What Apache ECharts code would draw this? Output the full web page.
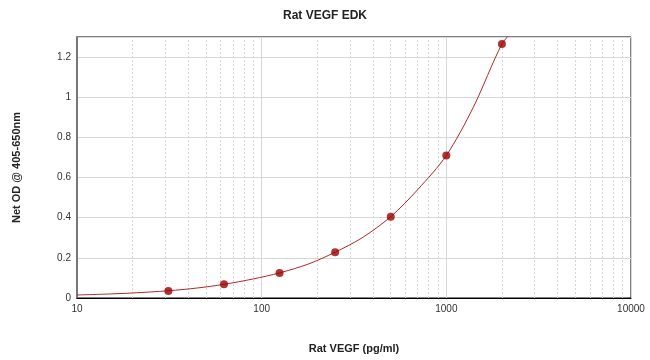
<!DOCTYPE html>
<html><head><meta charset="utf-8">
<script src="https://cdn.jsdelivr.net/npm/echarts@6/dist/echarts.min.js"></script>
<style>html,body{margin:0;padding:0;background:#fff}#c{width:650px;height:360px}</style>
</head><body><div id="c"></div>
<script>
const concentrations = [31.25, 62.5, 125, 250, 500, 1000, 2000];
const odValues = [0.035, 0.068, 0.125, 0.228, 0.405, 0.71, 1.265];
const curveX = [10, 15, 20, 31.25, 45, 62.5, 90, 125, 180, 250, 350, 500, 700, 1000, 1400, 2000, 2300];
const curveY = [0.015, 0.02, 0.025, 0.036, 0.05, 0.068, 0.095, 0.125, 0.17, 0.228, 0.3, 0.405, 0.54, 0.71, 0.95, 1.265, 1.33];
const minorGridX = [20,30,40,50,60,70,80,90,200,300,400,500,600,700,800,900,2000,3000,4000,5000,6000,7000,8000,9000];
const titleText = 'Rat VEGF EDK';
const xName = 'Rat VEGF (pg/ml)';
const yName = 'Net OD @ 405-650nm';

const font = 'Liberation Sans, Arial, sans-serif';
const chart = echarts.init(document.getElementById('c'));
chart.setOption({
  animation: false,
  title: { text: titleText, left: 'center', top: 5, textStyle: { fontFamily: font, fontSize: 12, fontWeight: 'bold', color: '#222' } },
  grid: { left: 77, right: 19, top: 37, bottom: 62, show: true, borderColor: '#000', borderWidth: 1, backgroundColor: 'transparent' },
  xAxis: {
    type: 'log', logBase: 10, min: 10, max: 10000,
    name: xName, nameLocation: 'middle', nameGap: 45,
    nameTextStyle: { fontFamily: font, fontSize: 11, fontWeight: 'bold', color: '#222' },
    axisLine: { lineStyle: { color: '#000', width: 1 } },
    axisTick: { show: false },
    axisLabel: { fontFamily: font, fontSize: 10, color: '#333', margin: 6, formatter: v => String(Math.round(v)) },
    splitLine: { show: true, lineStyle: { color: '#d8d8d8', width: 1 } }
  },
  yAxis: {
    type: 'value', min: 0, max: 1.3, interval: 0.2,
    name: yName, nameLocation: 'middle', nameGap: 55, nameRotate: 90,
    nameTextStyle: { fontFamily: font, fontSize: 11, fontWeight: 'bold', color: '#222' },
    axisLine: { show: true, lineStyle: { color: '#777', width: 2 } },
    axisTick: { show: false },
    axisLabel: { fontFamily: font, fontSize: 10, color: '#333', margin: 6, showMaxLabel: false },
    splitLine: { show: true, lineStyle: { color: '#d8d8d8', width: 1 } }
  },
  series: [
    {
      type: 'line', data: [], z: 1, silent: true,
      markLine: {
        silent: true, symbol: 'none', label: { show: false }, z: 1,
        lineStyle: { color: '#d6d6d6', type: [2, 2], width: 1 },
        data: minorGridX.map(v => ({ xAxis: v }))
      }
    },
    {
      type: 'line', data: curveX.map((x, i) => [x, curveY[i]]),
      smooth: 0.3, showSymbol: false, clip: true,
      lineStyle: { color: '#b02828', width: 1 },
      z: 3
    },
    {
      type: 'scatter', data: concentrations.map((x, i) => [x, odValues[i]]),
      symbolSize: 8, itemStyle: { color: '#9c0000', borderWidth: 0 }, z: 4
    }
  ]
});
</script></body></html>
